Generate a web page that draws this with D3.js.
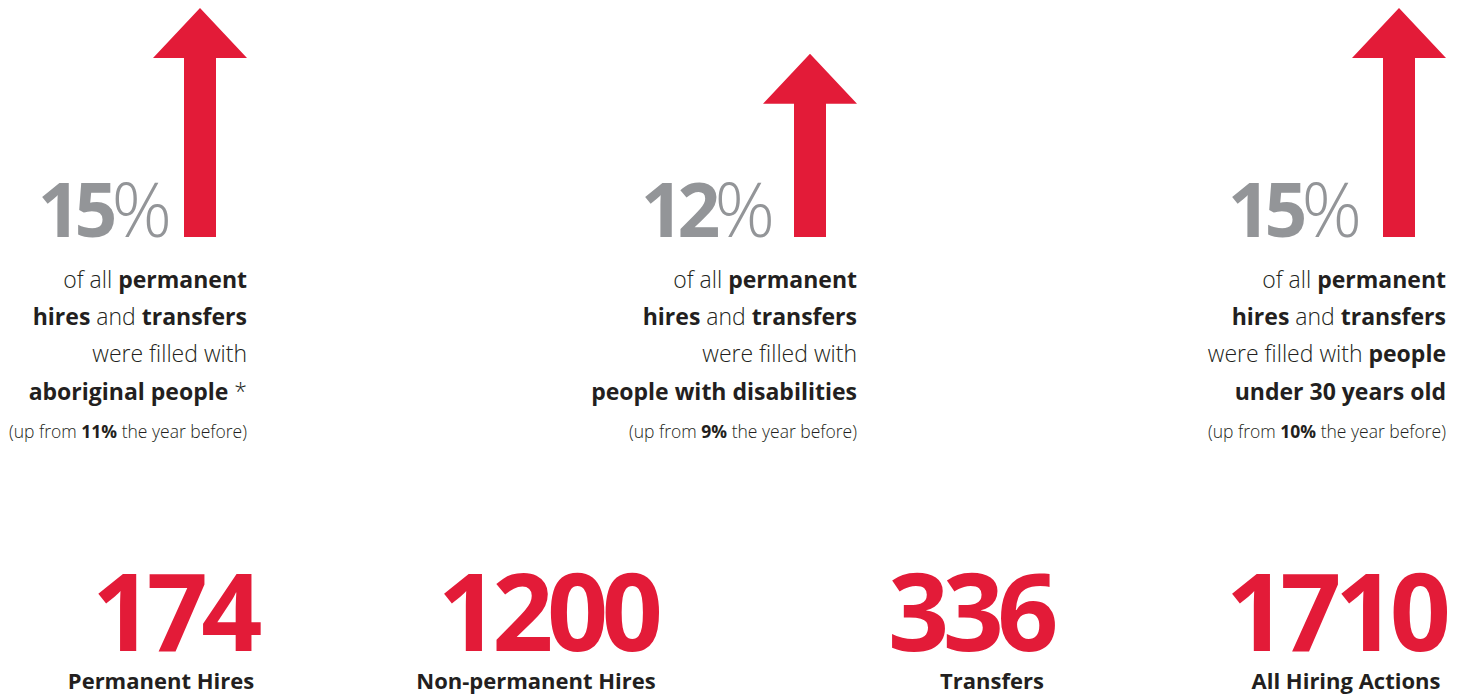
<!DOCTYPE html>
<html lang="en">
<head>
    <meta charset="UTF-8">
    <title>Hiring Actions</title>
    <style>
        body {
            margin: 0;
            padding: 0;
            background: #fff;
            overflow: hidden;
            font-family: "Open Sans", sans-serif;
        }
        .light { font-weight: 300; }
        .bold { font-weight: 700; }
    </style>
</head>
<body>
    <svg id="chart"></svg>

    <script src="https://d3js.org/d3.v7.min.js"></script>
    <script>
        // ---- data ----
        const pctValues = [15, 12, 15];
        const priorValues = [11, 9, 10];
        // description lines, each a list of [text, isBold]
        const pctLines = [
            [
                [["of all ", 0], ["permanent", 1]],
                [["hires", 1], [" and ", 0], ["transfers", 1]],
                [["were filled with", 0]],
                [["aboriginal people", 1], [" *", 0]]
            ],
            [
                [["of all ", 0], ["permanent", 1]],
                [["hires", 1], [" and ", 0], ["transfers", 1]],
                [["were filled with", 0]],
                [["people with disabilities", 1]]
            ],
            [
                [["of all ", 0], ["permanent", 1]],
                [["hires", 1], [" and ", 0], ["transfers", 1]],
                [["were filled with ", 0], ["people", 1]],
                [["under 30 years old", 1]]
            ]
        ];
        const totalLabels = ["Permanent Hires", "Non-permanent Hires", "Transfers", "All Hiring Actions"];
        const totalValues = [174, 1200, 336, 1710];

        // ---- layout ----
        const W = 1465, H = 694;
        const red = "#e31b38";
        const grey = "#939598";
        const ink = "#231f20";

        const svg = d3.select("#chart")
            .attr("width", W)
            .attr("height", H);

        // arrow centre x for each panel, and gap between % text and shaft
        const arrowX = [200, 810, 1399];
        const pctGap = [18, 25, 27];
        const baseY = 237;
        const y = d3.scaleLinear().domain([0, 15]).range([baseY, 8]);

        const headH = 50, headW = 94, shaftW = 32;

        function arrowPath(cx, v) {
            const top = y(v);
            const p = d3.path();
            p.moveTo(cx, top);
            p.lineTo(cx + headW / 2, top + headH);
            p.lineTo(cx + shaftW / 2, top + headH);
            p.lineTo(cx + shaftW / 2, baseY);
            p.lineTo(cx - shaftW / 2, baseY);
            p.lineTo(cx - shaftW / 2, top + headH);
            p.lineTo(cx - headW / 2, top + headH);
            p.closePath();
            return p.toString();
        }

        const panels = svg.selectAll(".panel")
            .data(pctValues)
          .enter().append("g")
            .attr("class", "panel");

        panels.append("path")
            .attr("d", (d, i) => arrowPath(arrowX[i], d))
            .attr("fill", red);

        // big percentage
        const pct = panels.append("text")
            .attr("x", (d, i) => arrowX[i] - shaftW / 2 - pctGap[i])
            .attr("y", baseY)
            .attr("text-anchor", "end")
            .attr("fill", grey)
            .style("font-size", "75px")
            .style("letter-spacing", "-6px");
        pct.append("tspan").attr("class", "bold").text(d => d);
        pct.append("tspan").attr("class", "light").text("%");

        // description lines
        const lineY = [288, 325, 362, 400];
        panels.each(function(d, i) {
            const g = d3.select(this);
            const rightX = arrowX[i] + headW / 2;
            pctLines[i].forEach((segs, j) => {
                const t = g.append("text")
                    .attr("x", rightX)
                    .attr("y", lineY[j])
                    .attr("text-anchor", "end")
                    .attr("fill", ink)
                    .style("font-size", "23px");
                segs.forEach(s => {
                    t.append("tspan")
                        .attr("class", s[1] ? "bold" : "light")
                        .text(s[0]);
                });
            });
            const note = g.append("text")
                .attr("x", rightX)
                .attr("y", 438)
                .attr("text-anchor", "end")
                .attr("fill", ink)
                .style("font-size", "17.5px");
            note.append("tspan").attr("class", "light").text("(up from ");
            note.append("tspan").attr("class", "bold").text(priorValues[i] + "%");
            note.append("tspan").attr("class", "light").text(" the year before)");
        });

        // ---- totals row ----
        const numX = [174, 547, 970, 1335];
        const labelX = [161, 536, 992, 1346];

        const totals = svg.selectAll(".total")
            .data(totalValues)
          .enter().append("g")
            .attr("class", "total");

        totals.append("text")
            .attr("class", "bold")
            .attr("x", (d, i) => numX[i])
            .attr("y", 651)
            .attr("text-anchor", "middle")
            .attr("fill", red)
            .style("font-size", "107px")
            .style("letter-spacing", "-6.5px")
            .text(d => d);

        totals.append("text")
            .attr("class", "bold")
            .attr("x", (d, i) => labelX[i])
            .attr("y", 689)
            .attr("text-anchor", "middle")
            .attr("fill", ink)
            .style("font-size", "22px")
            .text((d, i) => totalLabels[i]);
    </script>
</body>
</html>
